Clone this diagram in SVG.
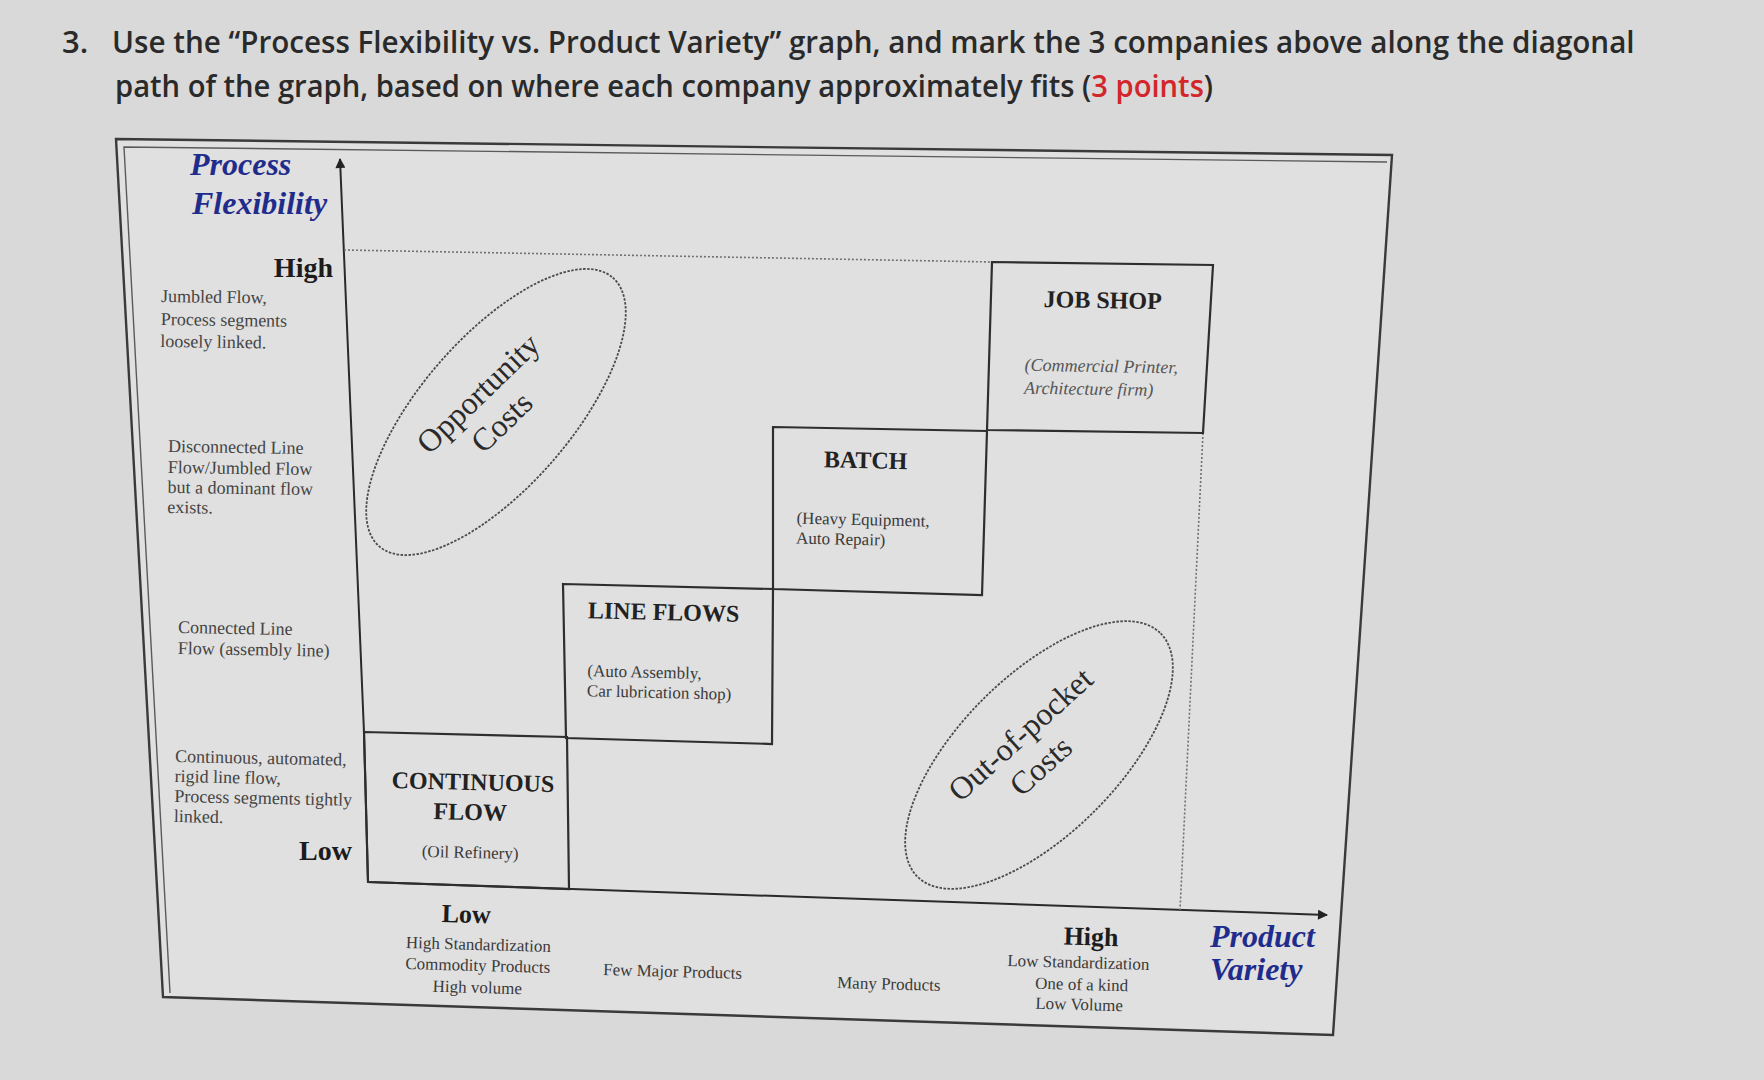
<svg xmlns="http://www.w3.org/2000/svg" width="1764" height="1080" viewBox="0 0 1764 1080">
<defs>
<marker id="arrow" viewBox="0 0 10 10" refX="9" refY="5" markerWidth="12" markerHeight="10" markerUnits="userSpaceOnUse" orient="auto">
<path d="M0,0 L10,5 L0,10 Z" fill="#222"/>
</marker>
</defs>
<style>
.bg{fill:#d9d9d9}
.frame{fill:#e0e0e0;stroke:none}
.fl{fill:none;stroke:#3a3a3a;stroke-width:2.4}
.fl2{fill:none;stroke:#5a5a5a;stroke-width:1.4}
.box{fill:none;stroke:#2e2e2e;stroke-width:2.2}
.axis{fill:none;stroke:#2a2a2a;stroke-width:2}
.dot{fill:none;stroke:#707070;stroke-width:1.6;stroke-dasharray:2 2}
.ell{fill:none;stroke:#4a4a4a;stroke-width:1.8;stroke-dasharray:2.5 1.5}
.title{font-family:"Open Sans","Noto Sans",sans-serif;font-weight:600;font-size:31px;fill:#2a2a2a}
.red{fill:#d3262b}
.ax{font-family:"Liberation Serif","Times New Roman",serif;font-weight:bold;font-style:italic;font-size:32px;fill:#1f2c8c}
.hl{font-family:"Liberation Serif","Times New Roman",serif;font-weight:bold;font-size:28px;fill:#1c1c1c}
.hb{font-family:"Liberation Serif","Times New Roman",serif;font-weight:bold;font-size:26px;fill:#1c1c1c}
.bt{font-family:"Liberation Serif","Times New Roman",serif;font-weight:bold;font-size:24px;fill:#222}
.sm{font-family:"Liberation Serif","Times New Roman",serif;font-size:18px;fill:#444}
.it{font-family:"Liberation Serif","Times New Roman",serif;font-size:18px;font-style:italic;fill:#555}
.bs{font-family:"Liberation Serif","Times New Roman",serif;font-size:17px;fill:#3a3a3a}
.et{font-family:"Liberation Serif","Times New Roman",serif;font-size:32px;fill:#2a2a2a}
.mid{text-anchor:middle}
.end{text-anchor:end}
</style>

<rect class="bg" x="0" y="0" width="1764" height="1080"/>

<g id="title">
<text class="title" x="62" y="53">3.</text>
<g transform="translate(112 53) scale(0.929 1)">
<text class="title" x="0" y="0" textLength="1639" lengthAdjust="spacingAndGlyphs">Use the “Process Flexibility vs. Product Variety” graph, and mark the 3 companies above along the diagonal</text>
</g>
<g transform="translate(115 97) scale(0.929 1)">
<text class="title" x="0" y="0" textLength="1182" lengthAdjust="spacingAndGlyphs">path of the graph, based on where each company approximately fits (<tspan class="red">3 points</tspan>)</text>
</g>
</g>

<g id="frame">
<polygon class="frame" points="116,139 1392,155 1333,1035 163,997"/>
<polygon class="fl" points="116,139 1392,155 1333,1035 163,997"/>
<polyline class="fl2" points="1387,162 124,147 170,993"/>
</g>

<g id="connectors">
<line class="axis" x1="364" y1="732" x2="340" y2="159" marker-end="url(#arrow)"/>
<line class="axis" x1="364" y1="732" x2="368" y2="882"/>
<line class="axis" x1="368" y1="882" x2="1327" y2="915" marker-end="url(#arrow)"/>
<line class="dot" x1="344" y1="250" x2="992" y2="262"/>
<line class="dot" x1="1203" y1="433" x2="1180" y2="910"/>
</g>

<g id="y-axis-labels">
<text class="ax" x="190" y="175">Process</text>
<text class="ax" x="192" y="214">Flexibility</text>
<text class="hl end" x="333" y="277">High</text>
<g class="sm" transform="rotate(0.8 161 300)">
<text x="161" y="302">Jumbled Flow,</text>
<text x="161" y="325">Process segments</text>
<text x="161" y="347">loosely linked.</text>
</g>
<g class="sm" transform="rotate(0.8 168 452)">
<text x="168" y="452">Disconnected Line</text>
<text x="168" y="473">Flow/Jumbled Flow</text>
<text x="168" y="493">but a dominant flow</text>
<text x="168" y="513">exists.</text>
</g>
<g class="sm" transform="rotate(1 178 633)">
<text x="178" y="633">Connected Line</text>
<text x="178" y="654">Flow (assembly line)</text>
</g>
<g class="sm" transform="rotate(1.2 175 762)">
<text x="175" y="762">Continuous, automated,</text>
<text x="175" y="782">rigid line flow,</text>
<text x="175" y="802">Process segments tightly</text>
<text x="175" y="822">linked.</text>
</g>
<text class="hl end" x="352" y="860">Low</text>
</g>

<g id="continuous-flow">
<polygon class="box" points="364,732 567,737 569,889 368,882"/>
<g transform="rotate(1.4 470 820)">
<text class="bt mid" x="472" y="790">CONTINUOUS</text>
<text class="bt mid" x="470" y="820">FLOW</text>
<text class="bs mid" x="471" y="858">(Oil Refinery)</text>
</g>
</g>

<g id="line-flows">
<polygon class="box" points="563,584 773,589 772,744 566,738"/>
<g transform="rotate(1.4 660 650)">
<text class="bt" x="587" y="620">LINE FLOWS</text>
<text class="bs" x="588" y="678">(Auto Assembly,</text>
<text class="bs" x="588" y="698">Car lubrication shop)</text>
</g>
</g>

<g id="batch">
<polygon class="box" points="773,427 987,431 982,595 773,589"/>
<g transform="rotate(1.3 860 500)">
<text class="bt" x="823" y="468">BATCH</text>
<text class="bs" x="797" y="525">(Heavy Equipment,</text>
<text class="bs" x="797" y="545">Auto Repair)</text>
</g>
</g>

<g id="job-shop">
<polygon class="box" points="992,262 1213,265 1203,433 987,430"/>
<g transform="rotate(1 1100 340)">
<text class="bt" x="1043" y="308">JOB SHOP</text>
<text class="it" x="1025" y="372">(Commercial Printer,</text>
<text class="it" x="1025" y="395">Architecture firm)</text>
</g>
</g>

<g id="opportunity-costs" transform="translate(496 412)">
<ellipse class="ell" cx="0" cy="0" rx="178" ry="75" transform="rotate(-49)"/>
<g transform="rotate(-44)">
<text class="et mid" x="0" y="-15">Opportunity</text>
<text class="et mid" x="-3" y="22">Costs</text>
</g>
</g>

<g id="out-of-pocket-costs" transform="translate(1039 755)">
<ellipse class="ell" cx="0" cy="0" rx="172" ry="79" transform="rotate(-45)"/>
<g transform="rotate(-42)">
<text class="et mid" x="0" y="-17">Out-of-pocket</text>
<text class="et mid" x="-6" y="20">Costs</text>
</g>
</g>

<g id="x-axis-labels">
<g transform="rotate(1.6 478 960)">
<text class="hb mid" x="465" y="923">Low</text>
<text class="bs mid" x="478" y="950">High Standardization</text>
<text class="bs mid" x="478" y="971">Commodity Products</text>
<text class="bs mid" x="478" y="993">High volume</text>
</g>
<text class="bs" x="603" y="975" transform="rotate(1.6 603 975)">Few Major Products</text>
<text class="bs" x="837" y="988" transform="rotate(1.6 837 988)">Many Products</text>
<g transform="rotate(1.6 1080 975)">
<text class="hb mid" x="1090" y="945">High</text>
<text class="bs mid" x="1078" y="968">Low Standardization</text>
<text class="bs mid" x="1082" y="990">One of a kind</text>
<text class="bs mid" x="1080" y="1010">Low Volume</text>
</g>
<text class="ax" x="1210" y="947">Product</text>
<text class="ax" x="1210" y="980">Variety</text>
</g>
</svg>
